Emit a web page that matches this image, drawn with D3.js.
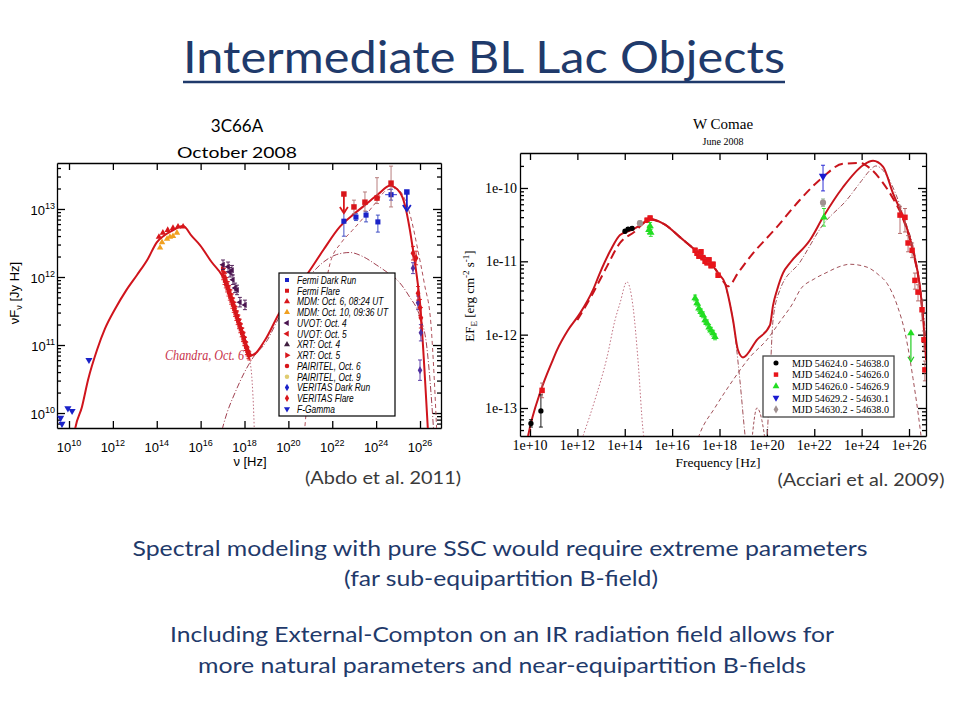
<!DOCTYPE html>
<html><head><meta charset="utf-8">
<script src="https://cdn.jsdelivr.net/npm/d3@7"></script>
<style>body{margin:0;background:#fff} svg{display:block}</style>
</head><body>
<svg id="c" width="960" height="720"></svg>
<script>
// ---------- LEFT PANEL: 3C66A (log10 nu [Hz], log10 nuFnu [Jy Hz]) ----------
const L_xTicks = [10,12,14,16,18,20,22,24,26];
const L_yTicks = [10,11,12,13];
const L_total = [[10.2,9.6],[10.27,9.75],[10.59,10.09],[10.87,10.49],[11.28,10.93],[11.64,11.24],[12.1,11.53],[12.6,11.8],[13.1,12.03],[13.6,12.27],[14.0,12.51],[14.3,12.6],[14.7,12.68],[15.2,12.75],[15.6,12.6],[15.97,12.47],[16.5,12.22],[17.0,12.01],[17.43,11.66],[17.89,11.22],[18.34,10.85],[18.93,11.07],[19.62,11.49],[20.3,11.8],[20.9,12.06],[21.6,12.4],[22.35,12.74],[23.0,12.93],[23.5,13.06],[24.1,13.22],[24.63,13.34],[25.09,13.24],[25.31,13.06],[25.54,12.69],[25.68,12.4],[25.86,12.0],[26.0,11.62],[26.23,10.49],[26.36,9.75],[26.4,9.5]];
const L_synch = [[17.6,11.48],[17.89,11.22],[18.2,10.85],[18.35,10.45],[18.42,10.0],[18.46,9.6]];
const L_ssc = [[16.85,9.6],[17.2,10.0],[17.57,10.3],[18.0,10.6],[18.4,10.82],[19.0,11.05],[19.6,11.42],[20.3,11.75],[21.0,12.03],[21.6,12.22],[22.2,12.33],[22.8,12.36],[23.4,12.3],[24.0,12.18],[24.5,12.07],[24.95,11.96],[25.5,11.72],[26.0,11.41],[26.3,11.0],[26.5,10.3],[26.65,9.6]];
const L_ec = [[20.7,9.6],[20.9,10.3],[21.2,10.9],[21.5,11.5],[21.9,12.2],[22.4,12.5],[22.9,12.68],[23.5,12.9],[24.0,13.1],[24.5,13.28],[24.9,13.3],[25.3,13.15],[25.6,12.85],[25.9,12.4],[26.2,11.9],[26.5,11.3],[26.65,10.5],[26.78,9.6]];
const L_fgamma = [[9.62,9.93],[9.68,9.84],[9.95,10.07],[10.14,10.03],[10.91,10.78]];
const L_mdm10 = [[14.15,12.43],[14.24,12.51],[14.47,12.56],[14.6,12.59],[14.74,12.6],[14.92,12.65]];
const L_mdm6 = [[14.1,12.59],[14.28,12.65],[14.5,12.69],[14.74,12.72],[14.97,12.74],[15.2,12.74]];
const L_xrt4 = [[17.02,12.18],[17.25,12.15],[17.34,12.07],[17.43,12.10],[17.47,11.96],[17.57,11.84],[17.66,11.81],[17.79,11.63],[18.02,11.59]];
const L_xrt5 = [[17.0,12.12],[17.03,12.02],[17.06,12.07],[17.09,11.95],[17.12,11.99],[17.15,11.9],[17.18,11.93],[17.21,11.84],[17.24,11.87],[17.27,11.78],[17.3,11.81],[17.33,11.72],[17.36,11.75],[17.39,11.66],[17.42,11.69],[17.45,11.6],[17.48,11.63],[17.51,11.54],[17.54,11.57],[17.57,11.48],[17.6,11.5],[17.63,11.42],[17.66,11.44],[17.69,11.36],[17.72,11.38],[17.75,11.3],[17.78,11.32],[17.81,11.24],[17.84,11.25],[17.87,11.18],[17.9,11.19],[17.93,11.11],[17.96,11.12],[17.99,11.05],[18.02,11.05],[18.05,10.98],[18.08,10.98],[18.11,10.92],[18.14,10.9],[18.18,10.86],[18.22,10.84]];
const L_fermiFlare = [[22.99,13.03,0.1,0.1],[23.49,13.10,0.13,0.15],[24.04,13.16,0.08,0.3],[24.68,13.38,0.35,0.25]];
const L_fermiFlareUL = [[22.53,13.22]];
const L_fermiDark = [[22.53,12.82,0.22,0.14],[23.08,12.88,0.05,0.05],[23.54,12.91,0.1,0.05],[24.08,12.81,0.15,0.1],[24.68,13.21,0.08,0.08]];
const L_fermiDarkUL = [[25.4,13.25]];
const L_veritasFlare = [[25.68,12.35,0.1,0.1],[25.82,12.28,0.1,0.1],[25.91,11.76,0.1,0.1],[26.0,11.55,0.12,0.12],[26.04,11.4,0.15,0.15]];
const L_veritasDark = [[25.68,12.13,0.08,0.08],[25.91,11.62,0.1,0.1],[26.04,11.18,0.12,0.12],[26.0,10.63,0.15,0.15]];
const L_legend = ["Fermi Dark Run","Fermi Flare","MDM: Oct. 6, 08:24 UT","MDM: Oct. 10, 09:36 UT","UVOT: Oct. 4","UVOT: Oct. 5","XRT: Oct. 4","XRT: Oct. 5","PAIRITEL, Oct. 6","PAIRITEL, Oct. 9","VERITAS Dark Run","VERITAS Flare","F-Gamma"];

// ---------- RIGHT PANEL: W Comae (log10 nu [Hz], log10 EF_E [erg cm^-2 s^-1]) ----------
const R_xTicks = [10,12,14,16,18,20,22,24,26];
const R_yTicks = [-13,-12,-11,-10];
const R_total = [[9.85,-13.5],[9.92,-13.38],[10.46,-12.76],[10.93,-12.37],[11.14,-12.21],[11.6,-11.94],[12.11,-11.71],[12.66,-11.39],[12.95,-11.16],[13.4,-10.85],[13.8,-10.64],[14.31,-10.57],[14.7,-10.5],[15.07,-10.42],[15.4,-10.45],[15.7,-10.5],[16.33,-10.67],[16.88,-10.82],[17.6,-11.01],[17.94,-11.16],[18.23,-11.3],[18.57,-11.8],[18.78,-12.21],[18.99,-12.31],[19.58,-12.07],[20.13,-11.87],[20.26,-11.6],[20.43,-11.39],[20.68,-11.16],[20.98,-11.02],[21.82,-10.71],[22.37,-10.4],[23.21,-9.99],[24.06,-9.69],[24.48,-9.63],[24.9,-9.71],[25.32,-10.07],[25.75,-10.4],[26.17,-10.85],[26.46,-11.35],[26.59,-11.76],[26.72,-12.35]];
const R_dash = [[12.0,-11.8],[12.6,-11.47],[13.2,-11.1],[13.8,-10.75],[14.4,-10.6],[15.07,-10.43],[15.7,-10.5],[16.33,-10.67],[16.88,-10.82],[17.6,-11.01],[17.94,-11.16],[18.15,-11.27],[18.36,-11.34],[18.8,-11.15],[19.29,-10.94],[20.43,-10.53],[21.4,-10.16],[22.37,-9.85],[23.21,-9.67],[23.93,-9.66],[24.35,-9.73],[24.9,-9.93],[25.32,-10.14],[25.75,-10.42],[26.17,-10.87],[26.46,-11.37],[26.6,-11.8]];
const R_ir = [[12.24,-13.38],[12.74,-12.89],[13.25,-12.31],[13.59,-11.8],[13.8,-11.57],[14.09,-11.28],[14.35,-11.62],[14.56,-12.35],[14.77,-13.3],[14.85,-13.5]];
const R_ssc = [[17.0,-13.5],[17.18,-13.34],[17.8,-13.0],[18.57,-12.62],[19.3,-12.3],[20.0,-12.07],[20.6,-11.8],[21.1,-11.57],[21.4,-11.39],[22.0,-11.24],[22.54,-11.15],[23.0,-11.08],[23.5,-11.04],[24.23,-11.08],[24.7,-11.18],[25.07,-11.3],[25.5,-11.6],[25.85,-12.0],[26.17,-12.6],[26.46,-13.26],[26.55,-13.5]];
const R_ec = [[20.0,-13.5],[20.13,-12.62],[20.26,-11.8],[20.55,-11.39],[21.4,-11.01],[22.37,-10.5],[23.38,-10.16],[24.0,-9.9],[24.35,-9.76],[24.6,-9.7],[25.0,-9.8],[25.4,-10.05],[25.83,-10.44],[26.25,-10.91],[26.55,-11.53],[26.72,-12.07]];
const R_synTail = [[18.3,-11.4],[18.57,-11.8],[18.86,-12.62],[19.08,-13.38],[19.12,-13.5]];
const R_bump = [[19.35,-13.5],[19.58,-13.0],[19.79,-13.17],[19.95,-13.5]];
const R_black = [[10.04,-13.21,0.05,0.05],[10.46,-13.04,0.22,0.22],[14.01,-10.59,0.02,0.02],[14.14,-10.56,0.02,0.02],[14.31,-10.55,0.02,0.02]];
const R_red = [[10.51,-12.76,0.1,0.1],[14.94,-10.44,0.03,0.03],[15.07,-10.41,0.03,0.03],[16.97,-10.85,0.03,0.03],[17.05,-10.89,0.03,0.03],[17.13,-10.93,0.03,0.03],[17.22,-10.87,0.03,0.03],[17.3,-10.95,0.03,0.03],[17.39,-11.0,0.03,0.03],[17.47,-11.02,0.03,0.03],[17.56,-10.98,0.03,0.03],[17.64,-11.06,0.03,0.03],[17.73,-11.04,0.03,0.03],[17.94,-11.19,0.03,0.03],[25.62,-10.37,0.25,0.12],[25.83,-10.4,0.2,0.12],[25.96,-10.75,0.12,0.1],[26.13,-10.85,0.1,0.1],[26.25,-11.26,0.12,0.1],[26.38,-11.42,0.12,0.1],[26.55,-11.66,0.15,0.12],[26.63,-12.07,0.15,0.12],[26.67,-12.48,0.15,0.12]];
const R_green = [[15.02,-10.57,0.05,0.05],[15.07,-10.52,0.05,0.05],[15.1,-10.61,0.05,0.05],[16.97,-11.5,0.04,0.04],[17.05,-11.57,0.04,0.04],[17.13,-11.64,0.04,0.04],[17.22,-11.69,0.04,0.04],[17.3,-11.73,0.04,0.04],[17.39,-11.8,0.04,0.04],[17.47,-11.84,0.04,0.04],[17.56,-11.9,0.04,0.04],[17.64,-11.94,0.04,0.04],[17.73,-11.98,0.04,0.04],[17.81,-12.03,0.04,0.04],[22.41,-10.4,0.12,0.12]];
const R_greenRange = [[26.08,-11.98,-12.37]];
const R_blue = [[22.37,-9.84,0.2,0.15]];
const R_gray = [[22.37,-10.2,0.05,0.05],[14.64,-10.48,0.03,0.03]];
const R_legend = ["MJD 54624.0 - 54638.0","MJD 54624.0 - 54626.0","MJD 54626.0 - 54626.9","MJD 54629.2 - 54630.1","MJD 54630.2 - 54638.0"];

// ---------- Slide text ----------
const slideTitle = "Intermediate BL Lac Objects";
const bodyLines = ["Spectral modeling with pure SSC would require extreme parameters","(far sub-equipartition B-field)","Including External-Compton on an IR radiation field allows for","more natural parameters and near-equipartition B-fields"];

const svg = d3.select('#c');
const NAVY = '#1f3a6b';
const RED = '#d8161b';
const BLUE = '#1a22c8';

function minorTicks(d){
  const out=[]; const lo=Math.min(d[0],d[1]), hi=Math.max(d[0],d[1]);
  for(let n=Math.floor(lo); n<=Math.ceil(hi); n++) for(let k=2;k<=9;k++){const v=n+Math.log10(k); if(v>lo&&v<hi) out.push(v);}
  return out;
}
function squeeze(sel, factor){
  const n = sel.node(); const w = n.getComputedTextLength();
  sel.attr('textLength', w*factor).attr('lengthAdjust','spacingAndGlyphs');
  return sel;
}

function panel(o){
  const x = d3.scaleLinear().domain(o.xd).range([o.x0,o.x1]);
  const y = d3.scaleLinear().domain(o.yd).range([o.y1,o.y0]);
  const g = svg.append('g');
  svg.append('clipPath').attr('id',o.id).append('rect').attr('x',o.x0).attr('y',o.y0).attr('width',o.x1-o.x0).attr('height',o.y1-o.y0);
  const ax = (sel)=>sel.selectAll('path,line').attr('stroke','#000').attr('stroke-width',1.3);
  g.append('g').attr('transform',`translate(0,${o.y1})`).call(d3.axisBottom(x).tickValues(o.xt).tickSizeInner(-7).tickSizeOuter(0).tickFormat('')).call(ax);
  g.append('g').attr('transform',`translate(0,${o.y0})`).call(d3.axisTop(x).tickValues(o.xt).tickSizeInner(-7).tickSizeOuter(0).tickFormat('')).call(ax);
  g.append('g').attr('transform',`translate(${o.x0},0)`).call(d3.axisLeft(y).tickValues(o.yt).tickSizeInner(-8).tickSizeOuter(0).tickFormat('')).call(ax);
  g.append('g').attr('transform',`translate(${o.x1},0)`).call(d3.axisRight(y).tickValues(o.yt).tickSizeInner(-8).tickSizeOuter(0).tickFormat('')).call(ax);
  const mt = minorTicks(o.yd);
  g.append('g').attr('transform',`translate(${o.x0},0)`).call(d3.axisLeft(y).tickValues(mt).tickSizeInner(-4).tickSizeOuter(0).tickFormat('')).call(ax).select('.domain').remove();
  g.append('g').attr('transform',`translate(${o.x1},0)`).call(d3.axisRight(y).tickValues(mt).tickSizeInner(-4).tickSizeOuter(0).tickFormat('')).call(ax).select('.domain').remove();
  const plot = svg.append('g').attr('clip-path',`url(#${o.id})`);
  return {x,y,g,plot};
}

function curve(P, data, color, width, dash){
  const line = d3.line().x(d=>P.x(d[0])).y(d=>P.y(d[1])).curve(d3.curveMonotoneX);
  P.plot.append('path').datum(data).attr('d',line).attr('fill','none').attr('stroke',color).attr('stroke-width',width).attr('stroke-dasharray',dash||null).attr('stroke-linejoin','round');
}
function symPath(type,size){ return d3.symbol().type(type).size(size)(); }
function points(P, data, type, size, color, rot, errColor){
  const G = P.plot.append('g');
  data.forEach(d=>{
    const cx=P.x(d[0]), cy=P.y(d[1]);
    if(d.length>=4){
      const y1=P.y(d[1]+d[3]), y2=P.y(d[1]-d[2]);
      G.append('line').attr('x1',cx).attr('x2',cx).attr('y1',y1).attr('y2',y2).attr('stroke',errColor||color).attr('stroke-width',0.9);
      [y1,y2].forEach(yy=>G.append('line').attr('x1',cx-2).attr('x2',cx+2).attr('y1',yy).attr('y2',yy).attr('stroke',errColor||color).attr('stroke-width',0.9));
    }
    G.append('path').attr('d',symPath(type,size)).attr('transform',`translate(${cx},${cy}) rotate(${rot||0})`).attr('fill',color);
  });
}
function upperLimit(P, data, color, len){
  data.forEach(d=>{
    const cx=P.x(d[0]), cy=P.y(d[1]), cy2=P.y(d[1]-len);
    P.plot.append('line').attr('x1',cx).attr('x2',cx).attr('y1',cy).attr('y2',cy2).attr('stroke',color).attr('stroke-width',1.8);
    P.plot.append('path').attr('d',`M${cx-4},${cy2-6}L${cx},${cy2}L${cx+4},${cy2-6}`).attr('fill','none').attr('stroke',color).attr('stroke-width',1.8);
    P.plot.append('path').attr('d',symPath(d3.symbolSquare,30)).attr('transform',`translate(${cx},${cy})`).attr('fill',color);
  });
}

// ===== LEFT PANEL =====
const LP = panel({id:'clipL', xd:[9.453,26.957], yd:[9.78,13.676], x0:57, x1:441, y0:163, y1:428, xt:L_xTicks, yt:L_yTicks});
L_xTicks.forEach(t=>{
  const tx = svg.append('text').attr('x',LP.x(t)).attr('y',452).attr('text-anchor','middle').attr('font-family','Liberation Sans, Arial, sans-serif').attr('font-size',13);
  tx.append('tspan').text('10');
  tx.append('tspan').attr('dy',-6).attr('font-size',9).text(t);
});
L_yTicks.forEach(t=>{
  const tx = svg.append('text').attr('x',55).attr('y',LP.y(t)+6).attr('text-anchor','end').attr('font-family','Liberation Sans, Arial, sans-serif').attr('font-size',13);
  tx.append('tspan').text('10');
  tx.append('tspan').attr('dy',-6).attr('font-size',9).text(t);
});
svg.append('text').attr('x',250).attr('y',466).attr('text-anchor','middle').attr('font-family','Liberation Sans, Arial, sans-serif').attr('font-size',13).text('ν [Hz]');
{
  const t = svg.append('text').attr('transform','translate(19,293) rotate(-90)').attr('text-anchor','middle').attr('font-family','Liberation Sans, Arial, sans-serif').attr('font-size',13);
  t.append('tspan').text('νF');
  t.append('tspan').attr('dy',3).attr('font-size',9).text('ν');
  t.append('tspan').attr('dy',-3).text(' [Jy Hz]');
}
curve(LP, L_ec, '#b0505a', 1, '4,3');
curve(LP, L_ssc, '#a04050', 1, '6,2,1,2');
curve(LP, L_synch, '#c07080', 1, '1.5,2');
curve(LP, L_total, '#d0141c', 2);
points(LP, L_fgamma, d3.symbolTriangle, 22, BLUE, 180);
points(LP, L_mdm10, d3.symbolTriangle, 18, '#f0a020', 0);
points(LP, L_mdm6, d3.symbolTriangle, 18, RED, 0);
points(LP, L_xrt5.map(d=>[d[0],d[1],0.06,0.06]), d3.symbolTriangle, 14, RED, 90);
points(LP, L_xrt4.map(d=>[d[0],d[1],0.07,0.07]), d3.symbolTriangle, 16, '#4a1450', 270);
points(LP, L_fermiDark, d3.symbolSquare, 26, BLUE, 0, '#3040c0');
LP.plot.append('line').attr('x1',LP.x(24.41)).attr('x2',LP.x(24.95)).attr('y1',LP.y(13.21)).attr('y2',LP.y(13.21)).attr('stroke',BLUE).attr('stroke-width',0.9);
points(LP, L_fermiFlare, d3.symbolSquare, 30, RED, 0, '#b07070');
upperLimit(LP, L_fermiFlareUL, RED, 0.28);
upperLimit(LP, L_fermiDarkUL, BLUE, 0.28);
points(LP, L_veritasDark, d3.symbolDiamond, 18, '#5030a0', 0);
points(LP, L_veritasFlare, d3.symbolDiamond, 20, RED, 0);
svg.append('text').attr('x',165).attr('y',360).attr('font-family','Liberation Serif, Times New Roman, serif').attr('font-style','italic').attr('font-size',14).attr('fill','#c8324b').attr('textLength',79).attr('lengthAdjust','spacingAndGlyphs').text('Chandra, Oct. 6');
{
  const lg = svg.append('g');
  lg.append('rect').attr('x',279).attr('y',273).attr('width',116).attr('height',143).attr('fill','#fff').attr('stroke','#000').attr('stroke-width',1.2);
  const syms = [[d3.symbolSquare,BLUE,0],[d3.symbolSquare,RED,0],[d3.symbolTriangle,RED,0],[d3.symbolTriangle,'#f0a020',0],[d3.symbolTriangle,'#4a1450',270],[d3.symbolTriangle,RED,270],[d3.symbolTriangle,'#402040',0],[d3.symbolTriangle,RED,90],[d3.symbolCircle,RED,0],[d3.symbolCircle,'#e0cc70',0],[d3.symbolDiamond,BLUE,0],[d3.symbolDiamond,RED,0],[d3.symbolTriangle,BLUE,180]];
  L_legend.forEach((s,i)=>{
    const yy = 280 + i*10.75;
    lg.append('path').attr('d',symPath(syms[i][0],16)).attr('transform',`translate(287,${yy}) rotate(${syms[i][2]})`).attr('fill',syms[i][1]);
    const t = lg.append('text').attr('x',297).attr('y',yy+3.8).attr('font-family','Liberation Sans, Arial, sans-serif').attr('font-style','italic').attr('font-size',10.5).text(s);
    squeeze(t, 0.8);
  });
}

// ===== RIGHT PANEL =====
const RP = panel({id:'clipR', xd:[9.578,26.717], yd:[-13.382,-9.523], x0:520, x1:926, y0:153, y1:436, xt:R_xTicks, yt:R_yTicks});
R_xTicks.forEach(t=>{
  svg.append('text').attr('x',RP.x(t)).attr('y',450).attr('text-anchor','middle').attr('font-family','Liberation Serif, Times New Roman, serif').attr('font-size',14).text('1e+'+t);
});
R_yTicks.forEach(t=>{
  svg.append('text').attr('x',517).attr('y',RP.y(t)+5).attr('text-anchor','end').attr('font-family','Liberation Serif, Times New Roman, serif').attr('font-size',14).text('1e'+t);
});
svg.append('text').attr('x',718).attr('y',467).attr('text-anchor','middle').attr('font-family','Liberation Serif, Times New Roman, serif').attr('font-size',13.5).text('Frequency [Hz]');
{
  const t = svg.append('text').attr('transform','translate(474,296) rotate(-90)').attr('text-anchor','middle').attr('font-family','Liberation Serif, Times New Roman, serif').attr('font-size',13);
  t.append('tspan').text('EF');
  t.append('tspan').attr('dy',3).attr('font-size',9).text('E');
  t.append('tspan').attr('dy',-3).text(' [erg cm');
  t.append('tspan').attr('dy',-5).attr('font-size',9).text('-2');
  t.append('tspan').attr('dy',5).text(' s');
  t.append('tspan').attr('dy',-5).attr('font-size',9).text('-1');
  t.append('tspan').attr('dy',5).text(']');
}
svg.append('text').attr('x',723).attr('y',129).attr('text-anchor','middle').attr('font-family','Liberation Serif, Times New Roman, serif').attr('font-size',15).text('W Comae');
svg.append('text').attr('x',723).attr('y',145).attr('text-anchor','middle').attr('font-family','Liberation Serif, Times New Roman, serif').attr('font-size',10).text('June 2008');
curve(RP, R_ir, '#c07080', 1, '1.5,2');
curve(RP, R_ssc, '#a05058', 1, '4,3');
curve(RP, R_ec, '#a05058', 1, '5,2,1,2');
curve(RP, R_synTail, '#a05058', 1, '5,2,1,2');
curve(RP, R_bump, '#a05058', 1, '3,2');
curve(RP, R_dash, '#c8141c', 2, '9,5');
curve(RP, R_total, '#c8141c', 2);
points(RP, R_black, d3.symbolCircle, 22, '#000', 0);
points(RP, R_red, d3.symbolSquare, 30, '#e8141a', 0, '#b06060');
points(RP, R_green, d3.symbolTriangle, 24, '#22dd22', 0);
R_greenRange.forEach(d=>{
  const cx=RP.x(d[0]), a=RP.y(d[1]), b=RP.y(d[2]);
  RP.plot.append('line').attr('x1',cx).attr('x2',cx).attr('y1',a).attr('y2',b).attr('stroke','#22cc22').attr('stroke-width',1.2);
  RP.plot.append('path').attr('d',`M${cx-3},${b-5}L${cx},${b}L${cx+3},${b-5}`).attr('fill','none').attr('stroke','#22cc22').attr('stroke-width',1.2);
  RP.plot.append('path').attr('d',symPath(d3.symbolTriangle,24)).attr('transform',`translate(${cx},${a})`).attr('fill','#22dd22');
});
points(RP, R_gray, d3.symbolCircle, 30, '#a09090', 0, '#88aa88');
points(RP, R_blue, d3.symbolTriangle, 30, '#1a1ad0', 180);
{
  const lg = svg.append('g');
  lg.append('rect').attr('x',763).attr('y',356).attr('width',131).attr('height',61).attr('fill','#fff').attr('stroke','#444').attr('stroke-width',1.3);
  const syms=[[d3.symbolCircle,'#000',0],[d3.symbolSquare,'#e8141a',0],[d3.symbolTriangle,'#22dd22',0],[d3.symbolTriangle,'#1a1ad0',180],[d3.symbolDiamond,'#a09090',0]];
  R_legend.forEach((s,i)=>{
    const yy = 363 + i*11.6;
    lg.append('path').attr('d',symPath(syms[i][0],20)).attr('transform',`translate(776,${yy}) rotate(${syms[i][2]})`).attr('fill',syms[i][1]);
    lg.append('text').attr('x',792).attr('y',yy+3.8).attr('font-family','Liberation Serif, Times New Roman, serif').attr('font-size',11).attr('textLength',97).attr('lengthAdjust','spacingAndGlyphs').text(s);
  });
}

// ===== SLIDE TEXT =====
svg.append('text').attr('x',484).attr('y',73).attr('text-anchor','middle').attr('font-family','Lato, Open Sans, sans-serif').attr('font-size',45).attr('fill',NAVY).attr('textLength',602).attr('lengthAdjust','spacingAndGlyphs').text(slideTitle);
svg.append('line').attr('x1',183).attr('x2',785).attr('y1',82).attr('y2',82).attr('stroke',NAVY).attr('stroke-width',2.5);
svg.append('text').attr('x',237).attr('y',132).attr('text-anchor','middle').attr('font-family','Lato, Open Sans, sans-serif').attr('font-size',17).text('3C66A');
svg.append('text').attr('x',237).attr('y',158).attr('text-anchor','middle').attr('font-family','Lato, Open Sans, sans-serif').attr('font-size',16).attr('textLength',120).attr('lengthAdjust','spacingAndGlyphs').text('October 2008');
svg.append('text').attr('x',383).attr('y',484).attr('text-anchor','middle').attr('font-family','Lato, Open Sans, sans-serif').attr('font-size',17).attr('fill','#3a3a3a').attr('textLength',156).attr('lengthAdjust','spacingAndGlyphs').text('(Abdo et al. 2011)');
svg.append('text').attr('x',861).attr('y',486).attr('text-anchor','middle').attr('font-family','Lato, Open Sans, sans-serif').attr('font-size',17).attr('fill','#3a3a3a').attr('textLength',167).attr('lengthAdjust','spacingAndGlyphs').text('(Acciari et al. 2009)');
const bodyY=[556,586,642,673], bodyW=[735,314,664,608], bodyX=[500,501,502,502];
bodyLines.forEach((s,i)=>{
  svg.append('text').attr('x',bodyX[i]).attr('y',bodyY[i]).attr('text-anchor','middle').attr('font-family','Lato, Open Sans, sans-serif').attr('font-size',21).attr('fill',NAVY).attr('textLength',bodyW[i]).attr('lengthAdjust','spacingAndGlyphs').text(s);
});
</script></body></html>
